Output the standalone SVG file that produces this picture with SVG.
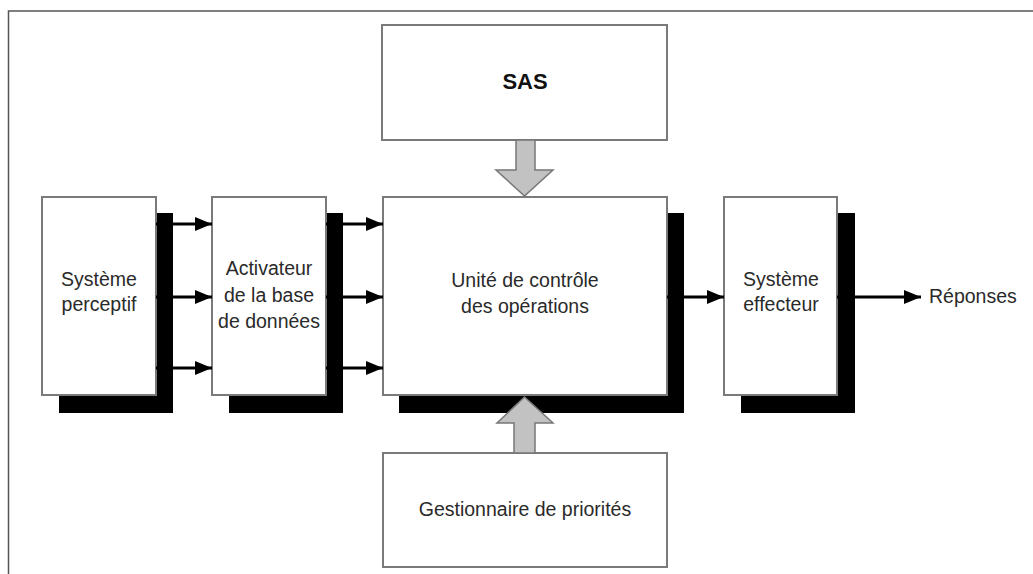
<svg xmlns="http://www.w3.org/2000/svg" width="1033" height="574" viewBox="0 0 1033 574">
<style>
.box{fill:#fff;stroke:#7a7a7a;stroke-width:2}
.sh{fill:#000}
.t{font-family:"Liberation Sans",Arial,sans-serif;font-size:19.5px;fill:#2a2a2a;text-anchor:middle}
.tb{font-family:"Liberation Sans",Arial,sans-serif;font-size:22px;font-weight:bold;fill:#111;text-anchor:middle}
.ar{stroke:#000;stroke-width:3;fill:none;marker-end:url(#ah)}
.blk{fill:#c2c2c2;stroke:#777;stroke-width:1.5}
</style>
<defs>
<marker id="ah" markerUnits="userSpaceOnUse" markerWidth="18" markerHeight="16" refX="17" refY="8" orient="auto">
<path d="M0,1 L17,8 L0,15 z" fill="#000"/>
</marker>
</defs>
<rect width="1033" height="574" fill="#fff"/>
<g id="frame">
<path d="M8.5,574 V11 H1033" fill="none" stroke="#555" stroke-width="1.5"/>
</g>
<g id="sas">
<rect class="box" x="382" y="25" width="285" height="115"/>
<text class="tb" x="525" y="89">SAS</text>
</g>
<g id="systeme-perceptif">
<rect class="sh" x="59" y="213" width="114" height="200"/>
<rect class="box" x="42" y="197" width="114" height="198"/>
<text class="t" x="99" y="286">Système</text>
<text class="t" x="99" y="311">perceptif</text>
</g>
<g id="activateur">
<rect class="sh" x="229" y="213" width="114" height="200"/>
<rect class="box" x="212" y="197" width="114" height="198"/>
<text class="t" x="269" y="275">Activateur</text>
<text class="t" x="269" y="302">de la base</text>
<text class="t" x="269" y="328">de données</text>
</g>
<g id="unite">
<rect class="sh" x="399" y="213" width="285" height="200"/>
<rect class="box" x="383" y="197" width="284" height="198"/>
<text class="t" x="525" y="287">Unité de contrôle</text>
<text class="t" x="525" y="313">des opérations</text>
</g>
<g id="systeme-effecteur">
<rect class="sh" x="741" y="213" width="114" height="200"/>
<rect class="box" x="724" y="197" width="113" height="198"/>
<text class="t" x="781" y="286">Système</text>
<text class="t" x="781" y="311">effecteur</text>
</g>
<g id="gestionnaire">
<rect class="box" x="383" y="453" width="284" height="114"/>
<text class="t" x="525" y="516">Gestionnaire de priorités</text>
</g>
<g id="reponses">
<text class="t" x="929" y="303" style="text-anchor:start">Réponses</text>
</g>
<g id="connectors">
<line class="ar" x1="156" y1="224" x2="212" y2="224"/>
<line class="ar" x1="156" y1="297" x2="212" y2="297"/>
<line class="ar" x1="156" y1="368" x2="212" y2="368"/>
<line class="ar" x1="326" y1="224" x2="383" y2="224"/>
<line class="ar" x1="326" y1="297" x2="383" y2="297"/>
<line class="ar" x1="326" y1="368" x2="383" y2="368"/>
<line class="ar" x1="667" y1="297" x2="724" y2="297"/>
<line class="ar" x1="837" y1="297" x2="921" y2="297"/>
<polygon class="blk" points="516,140 535,140 535,170 553,170 524.5,196 496,170 516,170"/>
<polygon class="blk" points="514,453 535,453 535,423 553,423 524.5,397 497,423 514,423"/>
</g>
</svg>
